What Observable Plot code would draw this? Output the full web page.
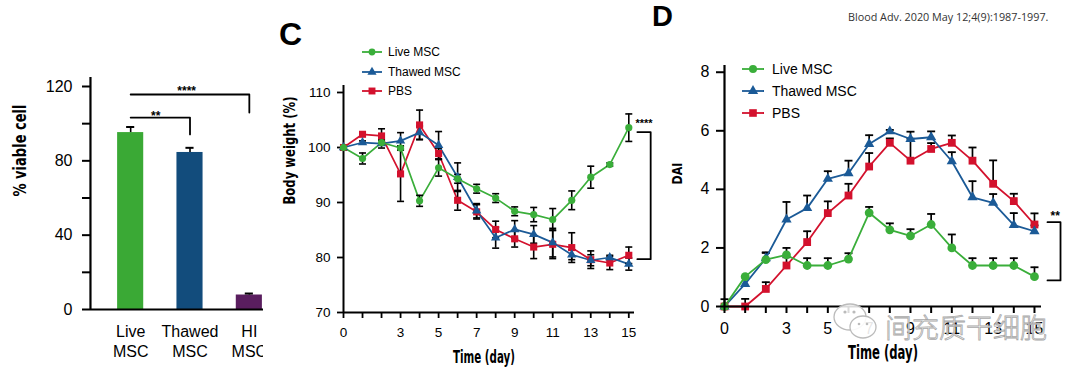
<!DOCTYPE html>
<html><head><meta charset="utf-8">
<script src="https://cdn.jsdelivr.net/npm/d3@7"></script>
<script src="https://cdn.jsdelivr.net/npm/@observablehq/plot@0.6"></script>
<style>
body{margin:0;background:#fff;}
#page{position:relative;width:1080px;height:373px;overflow:hidden;background:#fff;font-family:"Liberation Sans",Arial,sans-serif;color:#000;}
.lg{position:absolute;display:flex;align-items:center;white-space:nowrap;}
.lg svg{display:block;}
.letter{position:absolute;font-weight:bold;font-family:"Liberation Sans",Arial,sans-serif;line-height:1;}
</style></head>
<body><div id="page"></div>
<script>
// ---------- Panel A data ----------
const barCats = ["Live\nMSC", "Thawed\nMSC", "HI\nMSC"];
const barVals = [95.2, 84.5, 7.8];
const barErrs = [3.0, 2.5, 0.8];
const barColors = ["#3aa935", "#124c7c", "#5a1e5f"];
const viableTicks = [0, 20, 40, 60, 80, 100, 120];
const viableTickLabels = [0, 40, 80, 120];

// ---------- Shared series ----------
const days = [0,1,2,3,4,5,6,7,8,9,10,11,12,13,14,15];
const dayLabels = [0,3,5,7,9,11,13,15];
const seriesNames = ["Live MSC", "Thawed MSC", "PBS"];
const seriesColors = ["#3aae3a", "#1b5a97", "#d3112d"];
const seriesSymbols = ["circle", "triangle", "square"];

// ---------- Panel C: body weight (%) ----------
const weightLive    = [100, 98.0, 100.9, 99.9, 90.3, 96.3, 94.3, 92.5, 90.8, 88.4, 87.8, 86.9, 90.4, 94.6, 96.9, 103.6];
const weightLiveErr = [0, 1.0, 0.4, 0.4, 1.0, 1.5, 0.8, 0.8, 0.8, 0.8, 1.3, 2.0, 1.7, 2.0, 0.3, 2.5];
const weightThaw    = [100, 100.9, 100.7, 101.2, 102.7, 100.4, 94.6, 88.5, 83.6, 85.1, 84.2, 82.7, 80.5, 79.5, 80.0, 78.8];
const weightThawErr = [0, 0.3, 0.8, 1.5, 1.2, 2.5, 2.6, 1.3, 1.9, 1.6, 1.6, 2.6, 0.9, 1.0, 0.4, 1.1];
const weightPBS     = [100, 102.4, 102.1, 95.2, 104.1, 98.9, 90.4, 88.3, 85.1, 83.4, 81.9, 82.4, 81.8, 79.6, 79.0, 80.4];
const weightPBSErr  = [0, 0.3, 1.3, 5.0, 2.7, 1.0, 1.8, 1.3, 1.5, 1.5, 2.1, 2.6, 2.7, 1.6, 1.2, 1.5];
const weightTicks = [70, 80, 90, 100, 110];

// ---------- Panel D: DAI ----------
const daiLive    = [0, 1.02, 1.6, 1.76, 1.4, 1.4, 1.62, 3.2, 2.62, 2.41, 2.8, 2.0, 1.4, 1.4, 1.4, 1.02];
const daiLiveErr = [0, 0, 0.23, 0.24, 0.25, 0.25, 0.2, 0.2, 0.22, 0.23, 0.36, 0.46, 0.25, 0.25, 0.25, 0.32];
const daiThaw    = [0, 0.77, 1.65, 2.97, 3.36, 4.36, 4.55, 5.55, 5.98, 5.72, 5.78, 4.96, 3.73, 3.54, 2.78, 2.57];
const daiThawErr = [0, 0, 0.2, 0.6, 0.43, 0.26, 0.43, 0.3, 0.05, 0.25, 0.2, 0.31, 0.55, 0.3, 0.41, 0.2];
const daiPBS     = [0, 0, 0.6, 1.4, 2.2, 3.19, 3.79, 4.78, 5.59, 4.98, 5.38, 5.59, 4.98, 4.19, 3.6, 2.8];
const daiPBSErr  = [0.25, 0.26, 0.23, 0.28, 0.37, 0.4, 0.4, 0.46, 0.15, 0.75, 0.2, 0.25, 0.45, 0.8, 0.25, 0.38];
const daiTicks = [0, 2, 4, 6, 8];

// ---------- helpers ----------
const page = document.getElementById("page");
const BASE_FONT = '"Liberation Sans", Arial, sans-serif';
const TITLE_FONT = '"DejaVu Sans", sans-serif';
function place(el, left, top, parent = page) {
  el.style.position = "absolute"; el.style.left = left + "px"; el.style.top = top + "px";
  parent.appendChild(el); return el;
}
function rowsOf(vals, errs, name) {
  return days.map((d, i) => ({day: d, v: vals[i], e: errs[i], s: name}));
}
function capSymbol(w) {
  return {draw(ctx) { ctx.moveTo(-w / 2, 0); ctx.lineTo(w / 2, 0); }};
}
function fitText(svg, str, len) {
  svg.querySelectorAll("text").forEach(t => {
    if (t.textContent === str) { t.setAttribute("textLength", len); t.setAttribute("lengthAdjust", "spacingAndGlyphs"); }
  });
}
const plotStyle = {fontFamily: BASE_FONT, background: "transparent", overflow: "visible", color: "black", maxWidth: "none"};

// ================= Panel A =================
const bars = barCats.map((c, i) => ({cat: c, v: barVals[i], e: barErrs[i]}));
const sigA = [
  {from: barCats[0], to: barCats[1], y: 103.3, drop: 94.2, text: "**"},
  {from: barCats[0], to: barCats[2], y: 115.7, drop: 106, text: "****"}
];
const sigAPath = sigA.flatMap((b, k) => [
  {k, x: b.from, y: b.y}, {k, x: b.to, y: b.y}, {k, x: b.to, y: b.drop}
]);
const plotA = Plot.plot({
  width: 300, height: 373, marginLeft: 90, marginRight: 0, marginTop: 77, marginBottom: 64,
  style: plotStyle,
  x: {domain: barCats, range: [100.5, 278.5], paddingInner: 0.56, paddingOuter: 0.28, round: false},
  y: {domain: [0, 124.84]},
  color: {domain: barCats, range: barColors},
  marks: [
    Plot.barY(bars, {x: "cat", y: "v", fill: "cat"}),
    Plot.ruleX(bars, {x: "cat", y1: "v", y2: d => d.v + d.e, strokeWidth: 1.6}),
    Plot.tickY(bars, {x: "cat", y: d => d.v + d.e, insetLeft: 9, insetRight: 9, strokeWidth: 2}),
    Plot.ruleY([0], {strokeWidth: 2.2}),
    Plot.ruleX([barCats[0]], {dx: -40.2, strokeWidth: 2.2}),
    Plot.axisY({ticks: viableTicks, tickFormat: d => viableTickLabels.includes(d) ? String(d) : "",
      tickSize: 8, tickPadding: 10, fontSize: 16, strokeWidth: 2, label: null}),
    Plot.axisX({tickSize: 0, tickPadding: 13, fontSize: 16, lineHeight: 1.25, label: null}),
    Plot.line(sigAPath, {x: "x", y: "y", z: "k", strokeWidth: 1.8}),
    Plot.text([sigA[0]], {x: "from", y: "y", text: "text", dx: 25, dy: 2, lineAnchor: "bottom", fontSize: 12, fontWeight: "bold"}),
    Plot.text([sigA[1]], {x: "from", y: "y", text: "text", dx: 56, dy: 1, lineAnchor: "bottom", fontSize: 12, fontWeight: "bold"}),
    Plot.text(["% viable cell"], {frameAnchor: "left", rotate: -90, dx: -70, dy: 3, fontSize: 18, fontWeight: "bold", fontFamily: TITLE_FONT})
  ]
});
fitText(plotA, "% viable cell", 92);
const boxA = document.createElement("div");
boxA.style.width = "263px"; boxA.style.height = "373px"; boxA.style.overflow = "hidden";
place(boxA, 0, 0);
boxA.appendChild(plotA);

// ================= Panel C =================
const weightRows = [
  rowsOf(weightLive, weightLiveErr, seriesNames[0]),
  rowsOf(weightThaw, weightThawErr, seriesNames[1]),
  rowsOf(weightPBS, weightPBSErr, seriesNames[2])
];
const capC = capSymbol(7);
const drawOrder = [2, 1, 0];
const sigC = {x1: 15.45, x2: 16.15, top: 102.8, bottom: 79.7, text: "****"};
const sigCPath = [
  {x: sigC.x1, y: sigC.top}, {x: sigC.x2, y: sigC.top}, {x: sigC.x2, y: sigC.bottom}, {x: sigC.x1, y: sigC.bottom}
];
const sizesC = [3.6, 3.5, 4.0];
const plotC = Plot.plot({
  width: 400, height: 373, marginLeft: 63, marginRight: 46, marginTop: 85, marginBottom: 61,
  style: plotStyle,
  x: {domain: [0, 15.3]},
  y: {domain: [70, 111.27]},
  marks: [
    Plot.ruleX([0], {strokeWidth: 2}),
    Plot.ruleY([70], {strokeWidth: 2}),
    Plot.axisY({ticks: weightTicks, tickSize: 6, tickPadding: 7, fontSize: 13.5, strokeWidth: 1.8, label: null}),
    Plot.axisX({ticks: days, tickFormat: d => dayLabels.includes(d) ? String(d) : "", tickSize: 6, tickPadding: 9,
      fontSize: 13.5, strokeWidth: 1.8, label: null}),
    ...drawOrder.map(i => Plot.line(weightRows[i], {x: "day", y: "v", stroke: seriesColors[i], strokeWidth: 1.7})),
    ...drawOrder.map(i => Plot.ruleX(weightRows[i].filter(d => d.e > 0), {x: "day", y1: d => d.v - d.e, y2: d => d.v + d.e, strokeWidth: 1.6})),
    ...drawOrder.map(i => Plot.dot(weightRows[i].filter(d => d.e > 0), {x: "day", y: d => d.v + d.e, symbol: capC, fill: "none", stroke: "black", strokeWidth: 1.6})),
    ...drawOrder.map(i => Plot.dot(weightRows[i].filter(d => d.e > 0), {x: "day", y: d => d.v - d.e, symbol: capC, fill: "none", stroke: "black", strokeWidth: 1.6})),
    ...drawOrder.map(i => Plot.dot(weightRows[i], {x: "day", y: "v", symbol: seriesSymbols[i], r: sizesC[i], fill: seriesColors[i], stroke: "none"})),
    Plot.line(sigCPath, {x: "x", y: "y", strokeWidth: 1.8}),
    Plot.text([sigC], {x: (sigC.x1 + sigC.x2) / 2, y: "top", text: "text", lineAnchor: "bottom", dy: -5, fontSize: 11, fontWeight: "bold"}),
    Plot.text(["Time (day)"], {frameAnchor: "bottom", dx: -5, dy: 50, fontSize: 17, fontWeight: "bold", fontFamily: TITLE_FONT}),
    Plot.text(["Body weight (%)"], {frameAnchor: "left", rotate: -90, dx: -54, dy: 5.5, fontSize: 16, fontWeight: "bold", fontFamily: TITLE_FONT})
  ]
});
fitText(plotC, "Time (day)", 62);
fitText(plotC, "Body weight (%)", 108);
place(plotC, 280, 0);

// ================= Panel D =================
const daiRows = [
  rowsOf(daiLive, daiLiveErr, seriesNames[0]),
  rowsOf(daiThaw, daiThawErr, seriesNames[1]),
  rowsOf(daiPBS, daiPBSErr, seriesNames[2])
];
const capD = capSymbol(8);
const sigD = {x1: 15.63, x2: 16.26, top: 2.88, bottom: 0.89, text: "**"};
const sigDPath = [
  {x: sigD.x1, y: sigD.top}, {x: sigD.x2, y: sigD.top}, {x: sigD.x2, y: sigD.bottom}, {x: sigD.x1, y: sigD.bottom}
];
const sizesD = [4.4, 3.8, 4.4];
const plotD = Plot.plot({
  width: 420, height: 373, marginLeft: 64, marginRight: 39, marginTop: 65, marginBottom: 67,
  style: plotStyle,
  x: {domain: [0, 15.34]},
  y: {domain: [0, 8.23]},
  marks: [
    ...drawOrder.map(i => Plot.ruleX(daiRows[i].filter(d => d.e > 0), {x: "day", y1: "v", y2: d => d.v + d.e, strokeWidth: 1.7})),
    ...drawOrder.map(i => Plot.dot(daiRows[i].filter(d => d.e > 0), {x: "day", y: d => d.v + d.e, symbol: capD, fill: "none", stroke: "black", strokeWidth: 1.8})),
    ...drawOrder.map(i => Plot.line(daiRows[i], {x: "day", y: "v", stroke: seriesColors[i], strokeWidth: 1.8})),
    ...drawOrder.map(i => Plot.dot(daiRows[i], {x: "day", y: "v", symbol: seriesSymbols[i], r: sizesD[i], fill: seriesColors[i], stroke: "none"})),
    Plot.ruleX([0], {strokeWidth: 2.2}),
    Plot.ruleY([0], {strokeWidth: 2.2}),
    Plot.axisY({ticks: daiTicks, tickSize: 8, tickPadding: 7, fontSize: 16, strokeWidth: 2, label: null}),
    Plot.axisX({ticks: days, tickFormat: d => dayLabels.includes(d) ? String(d) : "", tickSize: 7, tickPadding: 9,
      fontSize: 16, strokeWidth: 2, label: null}),
    Plot.line(sigDPath, {x: "x", y: "y", strokeWidth: 1.8}),
    Plot.text([sigD], {x: 16.0, y: "top", text: "text", lineAnchor: "bottom", dy: -2, fontSize: 12, fontWeight: "bold"}),
    Plot.text(["Time (day)"], {frameAnchor: "bottom", dx: 0, dy: 52, fontSize: 19, fontWeight: "bold", fontFamily: TITLE_FONT}),
    Plot.text(["DAI"], {frameAnchor: "left", rotate: -90, dx: -47, dy: -1.5, fontSize: 14, fontWeight: "bold", fontFamily: TITLE_FONT})
  ]
});
fitText(plotD, "Time (day)", 70);
fitText(plotD, "DAI", 22);
place(plotD, 660, 0);

// ================= Legends =================
function legend(left, top, rowGap, fontSize, lineW, markR) {
  seriesNames.forEach((name, i) => {
    const row = document.createElement("div");
    row.className = "lg";
    row.style.fontSize = fontSize + "px";
    row.style.height = "14px";
    const sym = d3.symbol().type(i === 0 ? d3.symbolCircle : i === 1 ? d3.symbolTriangle : d3.symbolSquare).size(Math.PI * markR[i] * markR[i])();
    row.innerHTML = `<svg width="${lineW}" height="14" style="overflow:visible"><line x1="0" x2="${lineW}" y1="7" y2="7" stroke="${seriesColors[i]}" stroke-width="1.8"/><path transform="translate(${lineW / 2},7)" d="${sym}" fill="${seriesColors[i]}"/></svg><span style="margin-left:${lineW > 20 ? 8 : 6}px">${name}</span>`;
    place(row, left, top + i * rowGap - 7);
  });
}
legend(362, 52, 19.5, 12, 20, [3.4, 3.4, 3.9]);
legend(742, 69, 22, 14, 22, [4.0, 3.8, 4.3]);

// ================= Letters, citation, watermark =================
const lc = document.createElement("div"); lc.className = "letter"; lc.textContent = "C"; lc.style.fontSize = "32px";
place(lc, 279, 18);
const ld = document.createElement("div"); ld.className = "letter"; ld.textContent = "D"; ld.style.fontSize = "29px";
place(ld, 652, 2);
const cite = document.createElement("div");
cite.textContent = "Blood Adv. 2020 May 12;4(9):1987-1997.";
cite.style.fontSize = "10.8px"; cite.style.fontFamily = '"Open Sans", sans-serif'; cite.style.color = "#333"; cite.style.whiteSpace = "nowrap";
place(cite, 848, 9);

const wmIcon = document.createElement("div");
wmIcon.innerHTML = `<svg width="52" height="42"><ellipse cx="20" cy="16" rx="16" ry="13" fill="rgba(255,255,255,0.85)" stroke="#bbb" stroke-width="1.3"/><ellipse cx="33" cy="26" rx="13" ry="11" fill="rgba(255,255,255,0.9)" stroke="#bbb" stroke-width="1.3"/><circle cx="15" cy="11" r="1.6" fill="#bbb"/><circle cx="24" cy="11" r="1.6" fill="#bbb"/><circle cx="29" cy="23" r="1.3" fill="#bbb"/><circle cx="37" cy="23" r="1.3" fill="#bbb"/></svg>`;
place(wmIcon, 830, 301);
const wm = document.createElement("div");
wm.textContent = "间充质干细胞";
wm.style.fontSize = "27px"; wm.style.lineHeight = "1"; wm.style.fontFamily = '"Noto Sans CJK SC", sans-serif';
wm.style.fontWeight = "300"; wm.style.color = "rgba(255,255,255,0.85)"; wm.style.webkitTextStroke = "0.8px #a8a8a8";
wm.style.whiteSpace = "nowrap"; wm.style.letterSpacing = "0px";
place(wm, 885, 313);
</script></body></html>
